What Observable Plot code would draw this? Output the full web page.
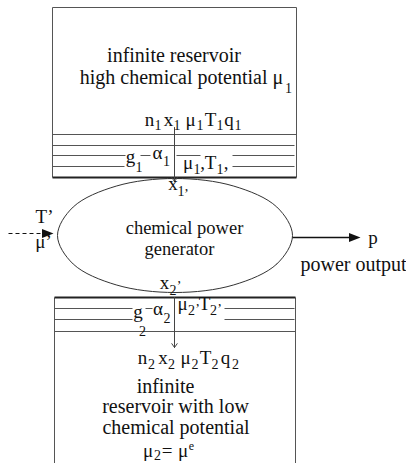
<!DOCTYPE html>
<html><head><meta charset="utf-8">
<script src="https://cdn.jsdelivr.net/npm/d3@7"></script>
<script src="https://cdn.jsdelivr.net/npm/@observablehq/plot@0.6"></script>
<style>
html,body{margin:0;padding:0;background:#fff;overflow:hidden}
</style>
</head><body><div id="chart"></div>
<script>
// Diagram elements (pixel coordinates of the picture)
const thinLines = [
  {x1: 52, y1: 7, x2: 296, y2: 7}, {x1: 52, y1: 7, x2: 52, y2: 177}, {x1: 296, y1: 7, x2: 296, y2: 177},
  {x1: 52, y1: 134, x2: 296, y2: 134}, {x1: 52, y1: 145, x2: 294, y2: 145},
  {x1: 52, y1: 155, x2: 125, y2: 155}, {x1: 140, y1: 155, x2: 150, y2: 155},
  {x1: 176, y1: 155, x2: 200, y2: 155}, {x1: 232, y1: 155, x2: 294, y2: 155},
  {x1: 52, y1: 166, x2: 124, y2: 166}, {x1: 232, y1: 166, x2: 294, y2: 166},
  {x1: 54, y1: 297, x2: 54, y2: 463}, {x1: 295, y1: 297, x2: 295, y2: 463},
  {x1: 54, y1: 308, x2: 132, y2: 308}, {x1: 145, y1: 308, x2: 152, y2: 308}, {x1: 224, y1: 308, x2: 294, y2: 308},
  {x1: 54, y1: 319, x2: 132, y2: 319}, {x1: 224, y1: 319, x2: 294, y2: 319},
  {x1: 54, y1: 331, x2: 295, y2: 331}
];
const thickLines = [
  {x1: 52, y1: 177, x2: 296, y2: 177},
  {x1: 54, y1: 297, x2: 295, y2: 297}
];
const flowArrows = [
  {x1: 174, y1: 127, x2: 174, y2: 181},
  {x1: 174, y1: 297, x2: 174, y2: 347}
];
const inputLine = [{x1: 8, y1: 233, x2: 44, y2: 233}];
const outputLine = [{x1: 292, y1: 237, x2: 350, y2: 237}];
const arrowTips = [{x: 53, y: 233}, {x: 360, y: 237}];
const generatorOutline = [
  {x: 292, y: 235}, {x: 276.3, y: 263.5}, {x: 233.3, y: 284.4}, {x: 174.5, y: 292},
  {x: 115.7, y: 284.4}, {x: 72.7, y: 263.5}, {x: 57, y: 235}, {x: 72.7, y: 206.5},
  {x: 115.7, y: 185.6}, {x: 174.5, y: 178}, {x: 233.3, y: 185.6}, {x: 276.3, y: 206.5}
];
// Phrases
const phraseText = [
  {t: "infinite reservoir", x: 173.5, y: 61},
  {t: "high chemical potential μ", x: 181, y: 83},
  {t: "infinite", x: 165, y: 392},
  {t: "reservoir with low", x: 175, y: 412},
  {t: "chemical potential", x: 175.5, y: 433}
];
const generatorText = [
  {t: "chemical power", x: 184, y: 233},
  {t: "generator", x: 179, y: 254}
];
const startText = [{t: "power output", x: 300, y: 270}];
// Single symbols
const symbolText = [
  {t: "n", x: 149, y: 125}, {t: "x", x: 168, y: 125}, {t: "μ", x: 190, y: 125}, {t: "T", x: 210, y: 125}, {t: "q", x: 228.5, y: 125},
  {t: "g", x: 130, y: 162}, {t: "α", x: 157, y: 158}, {t: "μ", x: 187.5, y: 168}, {t: ",", x: 202, y: 168}, {t: "T", x: 210, y: 168}, {t: ",", x: 225.5, y: 168},
  {t: "x", x: 172.5, y: 189},
  {t: "T’", x: 44, y: 222},
  {t: "μ’", x: 43, y: 247},
  {t: "p", x: 372.5, y: 243},
  {t: "x", x: 164, y: 288},
  {t: "g", x: 137.5, y: 317}, {t: "α", x: 157.5, y: 314}, {t: "μ", x: 182, y: 309}, {t: "T", x: 204, y: 309},
  {t: "n", x: 142, y: 363}, {t: "x", x: 162.5, y: 363}, {t: "μ", x: 185, y: 363}, {t: "T", x: 205, y: 363}, {t: "q", x: 225, y: 363},
  {t: "μ", x: 147.5, y: 456}, {t: "=", x: 166.5, y: 456}, {t: "μ", x: 182.5, y: 456}
];
const subText = [
  {t: "1", x: 288, y: 92},
  {t: "1", x: 157.5, y: 129}, {t: "1", x: 176.5, y: 129}, {t: "1", x: 199.5, y: 129}, {t: "1", x: 219.5, y: 129}, {t: "1", x: 237.5, y: 129},
  {t: "1", x: 138.5, y: 171}, {t: "1", x: 166, y: 165}, {t: "1", x: 196.5, y: 173}, {t: "1", x: 219.5, y: 173},
  {t: "1", x: 180.5, y: 195}, {t: ",", x: 186, y: 190},
  {t: "2", x: 172.5, y: 294}, {t: "’", x: 178.5, y: 290},
  {t: "2", x: 142, y: 335}, {t: "2", x: 166.5, y: 322}, {t: "2", x: 191, y: 314}, {t: "’", x: 197, y: 313},
  {t: "2", x: 213, y: 314}, {t: "’", x: 219, y: 313},
  {t: "2", x: 151, y: 368}, {t: "2", x: 171, y: 368}, {t: "2", x: 194.5, y: 368}, {t: "2", x: 214.5, y: 368}, {t: "2", x: 235, y: 368},
  {t: "2", x: 157, y: 459.5}
];
const supText = [{t: "e", x: 191, y: 449}];

const serif = "Liberation Serif";
const headShape = {
  draw(ctx) { ctx.moveTo(0, 0); ctx.lineTo(-11.5, -4.5); ctx.lineTo(-11.5, 4.5); ctx.closePath(); }
};

const chart = Plot.plot({
  width: 406, height: 463,
  margin: 0,
  x: {domain: [0, 406], range: [0, 406], axis: null},
  y: {domain: [0, 463], range: [0, 463], axis: null},
  style: {background: "#fff"},
  marks: [
    Plot.line(generatorOutline, {x: "x", y: "y", curve: "catmull-rom-closed", stroke: "#333", strokeWidth: 1}),
    Plot.link(thinLines, {x1: "x1", y1: "y1", x2: "x2", y2: "y2", stroke: "#555", strokeWidth: 1}),
    Plot.link(thickLines, {x1: "x1", y1: "y1", x2: "x2", y2: "y2", stroke: "#222", strokeWidth: 2}),
    Plot.arrow(flowArrows, {x1: "x1", y1: "y1", x2: "x2", y2: "y2", stroke: "#444", strokeWidth: 1, headLength: 7, headAngle: 70, insetEnd: 0, insetStart: 0}),
    Plot.link(inputLine, {x1: "x1", y1: "y1", x2: "x2", y2: "y2", stroke: "#111", strokeWidth: 1, strokeDasharray: "4,3"}),
    Plot.link(outputLine, {x1: "x1", y1: "y1", x2: "x2", y2: "y2", stroke: "#111", strokeWidth: 1.6}),
    Plot.dot(arrowTips, {x: "x", y: "y", symbol: headShape, fill: "#111", stroke: null, r: 4}),
    Plot.text(phraseText, {x: "x", y: "y", text: "t", fontSize: 20, fontFamily: serif, fill: "#111", lineAnchor: "bottom", textAnchor: "middle"}),
    Plot.text(generatorText, {x: "x", y: "y", text: "t", fontSize: 18.5, fontFamily: serif, fill: "#111", lineAnchor: "bottom", textAnchor: "middle"}),
    Plot.text(startText, {x: "x", y: "y", text: "t", fontSize: 20, fontFamily: serif, fill: "#111", lineAnchor: "bottom", textAnchor: "start"}),
    Plot.text(symbolText, {x: "x", y: "y", text: "t", fontSize: 19, fontFamily: serif, fill: "#111", lineAnchor: "bottom", textAnchor: "middle"}),
    Plot.text(subText, {x: "x", y: "y", text: "t", fontSize: 14, fontFamily: serif, fill: "#111", lineAnchor: "bottom", textAnchor: "middle"}),
    Plot.text(supText, {x: "x", y: "y", text: "t", fontSize: 12, fontFamily: serif, fill: "#111", lineAnchor: "bottom", textAnchor: "middle"})
  ]
});
document.getElementById("chart").appendChild(chart);
</script>
</body></html>
